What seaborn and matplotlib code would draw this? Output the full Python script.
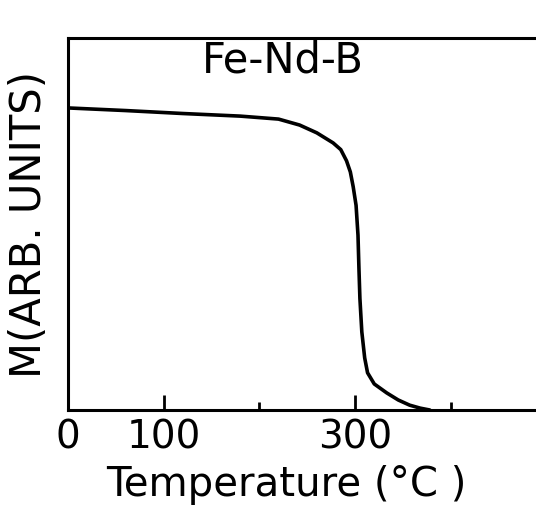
import matplotlib
matplotlib.use("Agg")
import matplotlib.pyplot as plt
import pandas as pd
import seaborn as sns

# magnetization vs temperature
temperature = [0, 60, 120, 180, 220, 242, 260, 277, 285, 291, 295, 298, 301,
               303, 304, 305, 307, 310, 313, 320, 333, 345, 357, 368, 378]
magnetization = [0.812, 0.805, 0.797, 0.790, 0.782, 0.766, 0.745, 0.718, 0.70,
                 0.67, 0.64, 0.60, 0.55, 0.47, 0.38, 0.30, 0.21, 0.14, 0.10,
                 0.07, 0.046, 0.027, 0.013, 0.005, 0.0]
major_ticks = [0, 100, 300]
major_labels = ["0", "100", "300"]
minor_ticks = [200, 400]

df = pd.DataFrame({"T": temperature, "M": magnetization})

sns.set_theme(style="white")
plt.rcParams["font.family"] = ["DejaVu Sans"]
plt.rcParams["text.color"] = "black"
plt.rcParams["xtick.color"] = "black"
plt.rcParams["xtick.labelcolor"] = "black"
plt.rcParams["axes.labelcolor"] = "black"

fig = plt.figure(figsize=(5.36, 5.08), dpi=100)
ax = fig.add_axes([68 / 536, 1 - 410 / 508, 1 - 68 / 536, 372 / 508])

sns.lineplot(data=df, x="T", y="M", ax=ax, color="black", linewidth=2.6, sort=False)

ax.set_xlim(0, 489)
ax.set_ylim(0, 1)

for side in ["left", "bottom", "top"]:
    ax.spines[side].set_color("black")
    ax.spines[side].set_linewidth(2.2)
ax.spines["right"].set_visible(False)

ax.set_xticks(major_ticks)
ax.set_xticklabels(major_labels)
ax.set_xticks(minor_ticks, minor=True)
ax.set_yticks([])
ax.tick_params(axis="x", which="major", direction="in", length=11, width=2,
               color="black", labelsize=28, pad=6, bottom=True)
ax.tick_params(axis="x", which="minor", direction="in", length=6, width=2,
               color="black", bottom=True)

ax.text(224, 0.94, "Fe-Nd-B", fontsize=30, ha="center", va="center")
ax.set_xlabel("Temperature (°C )", fontsize=29)
ax.set_ylabel("M(ARB. UNITS)", fontsize=30)
ax.xaxis.set_label_coords((286 - 68) / 468, -(465 - 410) / 372)
ax.yaxis.set_label_coords(-(68 - 50) / 468, (410 - 224) / 372)

fig.savefig("out.png", dpi=100)
